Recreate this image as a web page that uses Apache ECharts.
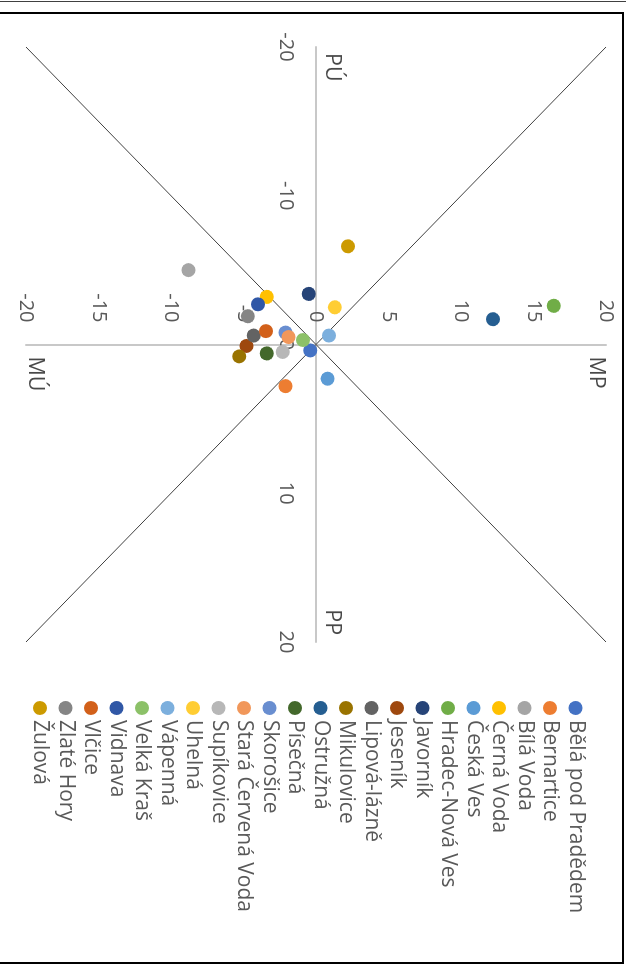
<!DOCTYPE html>
<html>
<head>
<meta charset="utf-8">
<title>Obce - kvadranty</title>
<script src="https://cdn.jsdelivr.net/npm/echarts@6/dist/echarts.min.js"></script>
<style>
  html, body { margin: 0; padding: 0; background: #fff; }
  body { width: 626px; height: 965px; position: relative; overflow: hidden; }
  .top-line { position: absolute; left: 0; top: 1px; width: 626px; height: 1px; background: #404040; }
  .frame { position: absolute; left: -3px; top: 12px; width: 623px; height: 948px; border: 2px solid #000; }
  /* chart is drawn landscape and turned 90deg clockwise */
  #chart {
    position: absolute; left: 0; top: 0;
    width: 965px; height: 626px;
    transform-origin: 0 0;
    transform: translate(626px, 0) rotate(90deg);
  }
</style>
</head>
<body>
<div class="top-line"></div>
<div class="frame"></div>
<div id="chart"></div>
<script>
// obce
const names = ['Bělá pod Pradědem', 'Bernartice', 'Bílá Voda', 'Černá Voda', 'Česká Ves',
  'Hradec-Nová Ves', 'Javorník', 'Jeseník', 'Lipová-lázně', 'Mikulovice', 'Ostružná',
  'Písečná', 'Skorošice', 'Stará Červená Voda', 'Supíkovice', 'Uhelná', 'Vápenná',
  'Velká Kraš', 'Vidnava', 'Vlčice', 'Zlaté Hory', 'Žulová'];
const xValues = [0.4, 2.8, -5.0, -3.2, 2.3, -2.6, -3.4, 0.1, -0.6, 0.8, -1.7,
  0.6, -0.8, -0.5, 0.5, -2.5, -0.6, -0.3, -2.7, -0.9, -1.9, -6.6];
const yValues = [-0.4, -2.1, -8.8, -3.4, 0.8, 16.4, -0.5, -4.8, -4.3, -5.3, 12.2,
  -3.4, -2.1, -1.9, -2.3, 1.3, 0.9, -0.9, -4.0, -3.45, -4.7, 2.2];

// diagonaly
const diagRising = [[-20, -20], [20, 20]];
const diagFalling = [[-20, 20], [20, -20]];

// popisky kvadrantu
const quadNames = ['PÚ', 'PP', 'MÚ', 'MP'];
const quadX = [-19.6, 17.8, 0.8, 0.8];
const quadY = [1.1, 1.1, -19.4, 19.3];

const xTicks = { min: -20, max: 20, interval: 10 };
const yTicks = { min: -20, max: 20, interval: 5 };

const colors = ['#4472C4', '#ED7D31', '#A5A5A5', '#FFC000', '#5B9BD5', '#70AD47',
  '#264478', '#9E480E', '#636363', '#997300', '#255E91', '#43682B',
  '#698ED0', '#F1975A', '#B7B7B7', '#FFCD33', '#7CAFDD', '#8CC168',
  '#3057A6', '#D2601A', '#858585', '#CC9A00'];

const FONT = '"Open Sans", "Noto Sans", sans-serif';
const GRID_W = 595, GRID_H = 580;

const chart = echarts.init(document.getElementById('chart'));

const axisCommon = {
  type: 'value',
  axisLine: { onZero: false, lineStyle: { color: '#C8C8C8', width: 2 } },
  axisTick: { show: false },
  splitLine: { show: false },
  axisLabel: { color: '#595959', fontSize: 20, fontFamily: FONT }
};

const series = [
  {
    name: 'diag1', type: 'line', data: diagRising, symbol: 'none', silent: true,
    lineStyle: { color: '#404040', width: 1 }, z: 1
  },
  {
    name: 'diag2', type: 'line', data: diagFalling, symbol: 'none', silent: true,
    lineStyle: { color: '#404040', width: 1 }, z: 1
  }
];

names.forEach((n, i) => {
  series.push({
    name: n,
    type: 'scatter',
    symbolSize: 14,
    itemStyle: { color: colors[i], opacity: 1 },
    data: [[xValues[i], yValues[i]]],
    z: 3
  });
});

series.push({
  name: 'kvadranty',
  type: 'scatter',
  symbolSize: 0,
  silent: true,
  data: quadNames.map((q, i) => ({ name: q, value: [quadX[i], quadY[i]] })),
  label: {
    show: true,
    position: 'right',
    distance: 0,
    formatter: p => p.name,
    color: '#1a1a1a',
    fontSize: 21.5,
    fontFamily: FONT
  },
  z: 4
});

chart.setOption({
  animation: false,
  color: colors,
  grid: { left: 47, top: 20, width: GRID_W, height: GRID_H },
  // axes pulled into the middle of the plot (crossing at 0)
  xAxis: Object.assign({}, axisCommon, xTicks, {
    position: 'bottom', offset: -GRID_H / 2,
    axisLabel: Object.assign({}, axisCommon.axisLabel, { margin: 20 })
  }),
  yAxis: Object.assign({}, axisCommon, yTicks, {
    position: 'left', offset: -GRID_W / 2,
    axisLabel: Object.assign({}, axisCommon.axisLabel, { margin: 22 })
  }),
  legend: {
    data: names,
    orient: 'vertical',
    left: 696,
    top: 35,
    height: 590,
    icon: 'circle',
    itemWidth: 14,
    itemHeight: 14,
    itemGap: 4.5,
    textStyle: { color: '#595959', fontSize: 21, lineHeight: 21, fontFamily: FONT }
  },
  series: series
});
</script>
</body>
</html>
